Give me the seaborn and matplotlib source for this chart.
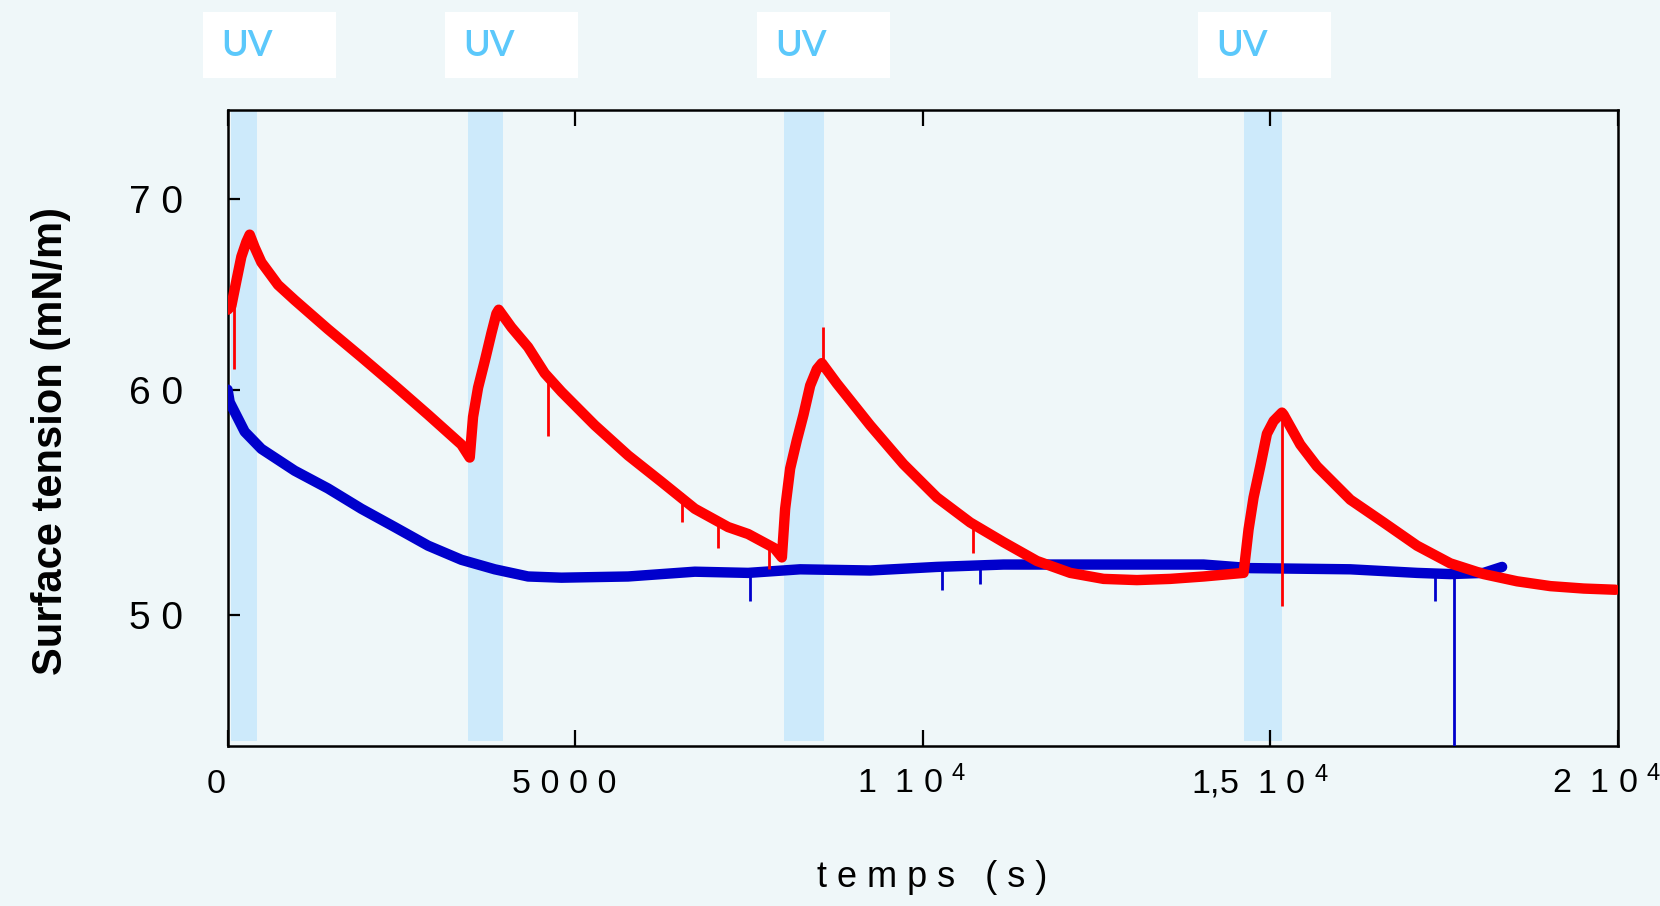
import matplotlib
matplotlib.use("Agg")
import matplotlib.pyplot as plt
import matplotlib.transforms as mtransforms
from matplotlib.patches import Rectangle
from matplotlib.ticker import NullLocator
import seaborn as sns

# ---------------- data ----------------
red_t = [0, 54, 126, 198, 270, 318, 390, 486, 725, 965, 1445, 1924, 2404, 2884,
         3363, 3483, 3531, 3603, 3699, 3795, 3867, 3900, 4082, 4322, 4562, 4802,
         5282, 5761, 6240, 6721, 7200, 7488, 7862, 7973, 8020, 8092, 8188, 8284,
         8380, 8476, 8548, 8764, 9243, 9722, 10203, 10682, 11161, 11642, 12121,
         12600, 13080, 13559, 14039, 14614, 14686, 14758, 14854, 14950, 15046,
         15166, 15190, 15430, 15670, 16150, 16629, 17109, 17588, 18068, 18548,
         19027, 19507, 19963]
red_v = [64.0, 64.2, 65.5, 66.8, 67.6, 68.0, 67.3, 66.5, 65.3, 64.5, 63.0, 61.6, 60.2, 58.8,
         57.4, 56.8, 58.7, 60.1, 61.4, 62.8, 63.8, 64.0, 63.1, 62.1, 60.8, 59.9,
         58.3, 56.9, 55.7, 54.5, 53.7, 53.4, 52.8, 52.4, 54.5, 56.3, 57.6, 58.8,
         60.2, 61.0, 61.3, 60.3, 58.3, 56.5, 55.0, 53.9, 53.05, 52.25, 51.75,
         51.5, 51.45, 51.5, 51.6, 51.75, 53.6, 55.0, 56.4, 57.9, 58.5,
         58.9, 58.8, 57.4, 56.4, 54.9, 53.9, 52.9, 52.15, 51.7, 51.4,
         51.2, 51.1, 51.05]

blue_t = [0, 30, 246, 486, 965, 1445, 1924, 2404, 2884, 3363, 3843, 4322, 4802,
          5761, 6721, 7488, 8236, 9243, 10200, 11161, 12600, 14039, 14711,
          16150, 17109, 17588, 18068, 18333]
blue_v = [60.0, 59.4, 58.0, 57.2, 56.2, 55.4, 54.5, 53.7, 52.9, 52.3, 51.9, 51.6, 51.55,
          51.6, 51.8, 51.75, 51.9, 51.85, 52.0, 52.1, 52.1, 52.1, 51.95,
          51.9, 51.75, 51.7, 51.75, 52.0]

red_spike_t = [92, 4610, 6543, 7056, 7790, 8571, 10729, 15166]
red_spike_lo = [61.0, 57.8, 53.9, 52.8, 51.9, 61.3, 52.6, 50.4]
red_spike_hi = [64.2, 60.8, 55.2, 53.9, 52.8, 63.1, 53.9, 58.9]

blue_spike_t = [7517, 10274, 10830, 17373, 17646]
blue_spike_lo = [50.6, 51.05, 51.3, 50.6, 44.0]
blue_spike_hi = [51.8, 51.9, 52.0, 51.8, 51.8]

uv_start = [55, 3458, 8006, 14614]
uv_end = [417, 3964, 8581, 15166]
uv_label = "UV"

x_ticks = [0, 5000, 10000, 15000, 20000]
x_tick_labels = ["0", "5 0 0 0", "1  1 0 $^{4}$", "1,5  1 0 $^{4}$", "2  1 0 $^{4}$"]
y_ticks = [50, 60, 70]
y_tick_labels = ["5 0", "6 0", "7 0"]

# ---------------- style ----------------
BG = "#eff7f9"
BAND = "#cdeafb"
RED = "#ff0000"
BLUE = "#0000cc"
UVCOL = "#5bc8fb"

sns.set_style("ticks")
plt.rcParams["font.family"] = ["Liberation Sans", "DejaVu Sans"]
plt.rcParams["mathtext.default"] = "regular"
plt.rcParams["text.color"] = "black"
plt.rcParams["axes.labelcolor"] = "black"
plt.rcParams["xtick.color"] = "black"
plt.rcParams["ytick.color"] = "black"

fig, ax = plt.subplots(figsize=(16.6, 9.06), dpi=100)
fig.patch.set_facecolor(BG)
ax.set_facecolor(BG)
fig.subplots_adjust(left=0.1371, right=0.9747, bottom=0.1766, top=0.8786)

# UV bands
for s, e in zip(uv_start, uv_end):
    ax.axvspan(s, e, ymin=0.008, ymax=1, color=BAND, lw=0, zorder=0)

# curves
sns.lineplot(x=blue_t, y=blue_v, color=BLUE, lw=7.5, ax=ax, sort=False,
             estimator=None, zorder=3)
ax.vlines(blue_spike_t, blue_spike_lo, blue_spike_hi, color=BLUE, lw=2, zorder=3)
sns.lineplot(x=red_t, y=red_v, color=RED, lw=7.5, ax=ax, sort=False,
             estimator=None, zorder=4)
ax.vlines(red_spike_t, red_spike_lo, red_spike_hi, color=RED, lw=2, zorder=4)

# axes
ax.set_yscale("log")
ax.set_xlim(0, 20000)
ax.set_ylim(45, 75.2)
ax.set_yticks(y_ticks, labels=y_tick_labels)
ax.yaxis.set_minor_locator(NullLocator())
ax.set_xticks(x_ticks, labels=x_tick_labels)

for sp in ax.spines.values():
    sp.set_visible(True)
    sp.set_color("black")
    sp.set_linewidth(1.8)

ax.tick_params(axis="x", direction="in", top=True, bottom=True, length=11.5,
               width=1.6, labelsize=24.5, pad=34, colors="black")
ax.tick_params(axis="y", direction="in", left=True, right=False, length=8.5,
               width=1.6, labelsize=28, pad=32, colors="black")

offset = mtransforms.ScaledTranslation(-11 / 100, 0, fig.dpi_scale_trans)
for lbl in ax.get_xticklabels():
    lbl.set_va("baseline")
    lbl.set_transform(lbl.get_transform() + offset)

ax.set_xlabel("t e m p s   ( s )", fontsize=26, color="black")
ax.xaxis.set_label_coords(0.5064, -0.206)
ax.xaxis.label.set_va("center")

ax.set_ylabel("Surface tension (mN/m)", fontsize=30, fontweight="bold", color="black")
ax.yaxis.set_label_coords(-0.127, 0.48)
ax.yaxis.label.set_va("center")

ax.grid(False)

# UV label boxes at the top
box_left_px = [202.5, 444.5, 757, 1197.5]
W, H = 1660, 906
for bx in box_left_px:
    fig.patches.append(Rectangle((bx / W, 1 - 77.5 / H), 133 / W, 65 / H,
                                 transform=fig.transFigure, facecolor="white",
                                 edgecolor="none", zorder=1))
    fig.text((bx + 18.5) / W, 1 - 46 / H, uv_label, color=UVCOL, fontsize=26,
             family=["Lato", "DejaVu Sans"], fontweight="semibold",
             ha="left", va="center", zorder=2)

fig.savefig("out.png", dpi=100, facecolor=BG)
